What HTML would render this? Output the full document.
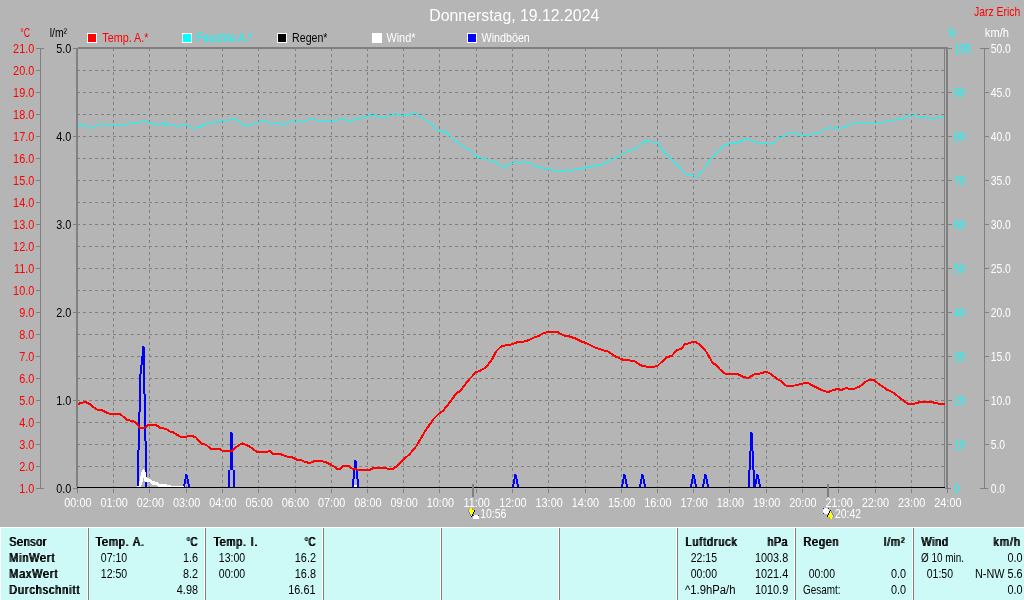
<!DOCTYPE html>
<html lang="de"><head><meta charset="utf-8"><title>Donnerstag, 19.12.2024</title>
<style>
html,body{margin:0;padding:0;background:#b5b5b5;overflow:hidden}
svg{display:block;will-change:transform}
text{font-family:"Liberation Sans",sans-serif;white-space:pre}
</style></head><body>
<svg width="1024" height="600" viewBox="0 0 1024 600" shape-rendering="crispEdges">
<defs><filter id="sb" x="-20%" y="-20%" width="140%" height="140%"><feOffset in="SourceGraphic" dx="1.163" dy="0" result="o"/><feMerge><feMergeNode in="o"/><feMergeNode in="SourceGraphic"/></feMerge></filter></defs>
<rect x="0" y="0" width="1024" height="600" fill="#b5b5b5"/>
<g stroke="#808080" stroke-width="1" stroke-dasharray="3 3" fill="none">
<line x1="77" y1="70.5" x2="945" y2="70.5"/>
<line x1="77" y1="92.5" x2="945" y2="92.5"/>
<line x1="77" y1="114.5" x2="945" y2="114.5"/>
<line x1="77" y1="136.5" x2="945" y2="136.5"/>
<line x1="77" y1="158.5" x2="945" y2="158.5"/>
<line x1="77" y1="180.5" x2="945" y2="180.5"/>
<line x1="77" y1="202.5" x2="945" y2="202.5"/>
<line x1="77" y1="224.5" x2="945" y2="224.5"/>
<line x1="77" y1="246.5" x2="945" y2="246.5"/>
<line x1="77" y1="268.5" x2="945" y2="268.5"/>
<line x1="77" y1="290.5" x2="945" y2="290.5"/>
<line x1="77" y1="312.5" x2="945" y2="312.5"/>
<line x1="77" y1="334.5" x2="945" y2="334.5"/>
<line x1="77" y1="356.5" x2="945" y2="356.5"/>
<line x1="77" y1="378.5" x2="945" y2="378.5"/>
<line x1="77" y1="400.5" x2="945" y2="400.5"/>
<line x1="77" y1="422.5" x2="945" y2="422.5"/>
<line x1="77" y1="444.5" x2="945" y2="444.5"/>
<line x1="77" y1="466.5" x2="945" y2="466.5"/>
<line x1="113.5" y1="48" x2="113.5" y2="487"/>
<line x1="149.5" y1="48" x2="149.5" y2="487"/>
<line x1="186.5" y1="48" x2="186.5" y2="487"/>
<line x1="222.5" y1="48" x2="222.5" y2="487"/>
<line x1="258.5" y1="48" x2="258.5" y2="487"/>
<line x1="295.5" y1="48" x2="295.5" y2="487"/>
<line x1="331.5" y1="48" x2="331.5" y2="487"/>
<line x1="367.5" y1="48" x2="367.5" y2="487"/>
<line x1="403.5" y1="48" x2="403.5" y2="487"/>
<line x1="439.5" y1="48" x2="439.5" y2="487"/>
<line x1="476.5" y1="48" x2="476.5" y2="487"/>
<line x1="512.5" y1="48" x2="512.5" y2="487"/>
<line x1="548.5" y1="48" x2="548.5" y2="487"/>
<line x1="585.5" y1="48" x2="585.5" y2="487"/>
<line x1="621.5" y1="48" x2="621.5" y2="487"/>
<line x1="657.5" y1="48" x2="657.5" y2="487"/>
<line x1="693.5" y1="48" x2="693.5" y2="487"/>
<line x1="729.5" y1="48" x2="729.5" y2="487"/>
<line x1="766.5" y1="48" x2="766.5" y2="487"/>
<line x1="802.5" y1="48" x2="802.5" y2="487"/>
<line x1="838.5" y1="48" x2="838.5" y2="487"/>
<line x1="875.5" y1="48" x2="875.5" y2="487"/>
<line x1="911.5" y1="48" x2="911.5" y2="487"/>
</g>
<rect x="113" y="489" width="1" height="4" fill="#808080"/>
<rect x="149" y="489" width="1" height="4" fill="#808080"/>
<rect x="186" y="489" width="1" height="4" fill="#808080"/>
<rect x="222" y="489" width="1" height="4" fill="#808080"/>
<rect x="258" y="489" width="1" height="4" fill="#808080"/>
<rect x="295" y="489" width="1" height="4" fill="#808080"/>
<rect x="331" y="489" width="1" height="4" fill="#808080"/>
<rect x="367" y="489" width="1" height="4" fill="#808080"/>
<rect x="403" y="489" width="1" height="4" fill="#808080"/>
<rect x="439" y="489" width="1" height="4" fill="#808080"/>
<rect x="476" y="489" width="1" height="4" fill="#808080"/>
<rect x="512" y="489" width="1" height="4" fill="#808080"/>
<rect x="548" y="489" width="1" height="4" fill="#808080"/>
<rect x="585" y="489" width="1" height="4" fill="#808080"/>
<rect x="621" y="489" width="1" height="4" fill="#808080"/>
<rect x="657" y="489" width="1" height="4" fill="#808080"/>
<rect x="693" y="489" width="1" height="4" fill="#808080"/>
<rect x="729" y="489" width="1" height="4" fill="#808080"/>
<rect x="766" y="489" width="1" height="4" fill="#808080"/>
<rect x="802" y="489" width="1" height="4" fill="#808080"/>
<rect x="838" y="489" width="1" height="4" fill="#808080"/>
<rect x="875" y="489" width="1" height="4" fill="#808080"/>
<rect x="911" y="489" width="1" height="4" fill="#808080"/>
<rect x="944" y="49" width="1" height="438" fill="#808080"/>
<g shape-rendering="crispEdges"><rect x="142" y="346" width="2" height="10" fill="#0000ff"/><rect x="144" y="347" width="1" height="9" fill="#0000ff"/><rect x="141" y="356" width="4" height="9" fill="#0000ff"/><rect x="140" y="365" width="2" height="9" fill="#0000ff"/><rect x="143" y="365" width="2" height="29" fill="#0000ff"/><rect x="139" y="374" width="2" height="38" fill="#0000ff"/><rect x="144" y="394" width="2" height="47" fill="#0000ff"/><rect x="138" y="412" width="2" height="38" fill="#0000ff"/><rect x="145" y="441" width="2" height="46" fill="#0000ff"/><rect x="137" y="450" width="2" height="37" fill="#0000ff"/><rect x="230" y="432" width="2" height="38" fill="#0000ff"/><rect x="232" y="433" width="1" height="37" fill="#0000ff"/><rect x="228" y="470" width="2" height="17" fill="#0000ff"/><rect x="233" y="470" width="2" height="17" fill="#0000ff"/><rect x="354" y="460" width="2" height="10" fill="#0000ff"/><rect x="356" y="461" width="1" height="9" fill="#0000ff"/><rect x="353" y="470" width="2" height="9" fill="#0000ff"/><rect x="356" y="470" width="2" height="9" fill="#0000ff"/><rect x="352" y="479" width="2" height="8" fill="#0000ff"/><rect x="357" y="479" width="2" height="8" fill="#0000ff"/><rect x="750" y="432" width="2" height="19" fill="#0000ff"/><rect x="752" y="433" width="1" height="18" fill="#0000ff"/><rect x="749" y="451" width="2" height="19" fill="#0000ff"/><rect x="752" y="451" width="2" height="19" fill="#0000ff"/><rect x="748" y="470" width="2" height="17" fill="#0000ff"/><rect x="753" y="470" width="2" height="17" fill="#0000ff"/><rect x="185" y="474" width="2" height="5" fill="#0000ff"/><rect x="187" y="475" width="1" height="4" fill="#0000ff"/><rect x="184" y="479" width="2" height="5" fill="#0000ff"/><rect x="187" y="479" width="2" height="5" fill="#0000ff"/><rect x="183" y="484" width="2" height="3" fill="#0000ff"/><rect x="188" y="484" width="2" height="3" fill="#0000ff"/><rect x="514" y="474" width="2" height="5" fill="#0000ff"/><rect x="516" y="475" width="1" height="4" fill="#0000ff"/><rect x="513" y="479" width="2" height="5" fill="#0000ff"/><rect x="516" y="479" width="2" height="5" fill="#0000ff"/><rect x="512" y="484" width="2" height="3" fill="#0000ff"/><rect x="517" y="484" width="2" height="3" fill="#0000ff"/><rect x="623" y="474" width="2" height="5" fill="#0000ff"/><rect x="625" y="475" width="1" height="4" fill="#0000ff"/><rect x="622" y="479" width="2" height="5" fill="#0000ff"/><rect x="625" y="479" width="2" height="5" fill="#0000ff"/><rect x="621" y="484" width="2" height="3" fill="#0000ff"/><rect x="626" y="484" width="2" height="3" fill="#0000ff"/><rect x="641" y="474" width="2" height="5" fill="#0000ff"/><rect x="643" y="475" width="1" height="4" fill="#0000ff"/><rect x="640" y="479" width="2" height="5" fill="#0000ff"/><rect x="643" y="479" width="2" height="5" fill="#0000ff"/><rect x="639" y="484" width="2" height="3" fill="#0000ff"/><rect x="644" y="484" width="2" height="3" fill="#0000ff"/><rect x="692" y="474" width="2" height="5" fill="#0000ff"/><rect x="694" y="475" width="1" height="4" fill="#0000ff"/><rect x="691" y="479" width="2" height="5" fill="#0000ff"/><rect x="694" y="479" width="2" height="5" fill="#0000ff"/><rect x="690" y="484" width="2" height="3" fill="#0000ff"/><rect x="695" y="484" width="2" height="3" fill="#0000ff"/><rect x="704" y="474" width="2" height="5" fill="#0000ff"/><rect x="706" y="475" width="1" height="4" fill="#0000ff"/><rect x="703" y="479" width="2" height="5" fill="#0000ff"/><rect x="706" y="479" width="2" height="5" fill="#0000ff"/><rect x="702" y="484" width="2" height="3" fill="#0000ff"/><rect x="707" y="484" width="2" height="3" fill="#0000ff"/><rect x="756" y="474" width="2" height="5" fill="#0000ff"/><rect x="758" y="475" width="1" height="4" fill="#0000ff"/><rect x="755" y="479" width="2" height="5" fill="#0000ff"/><rect x="758" y="479" width="2" height="5" fill="#0000ff"/><rect x="754" y="484" width="2" height="3" fill="#0000ff"/><rect x="759" y="484" width="2" height="3" fill="#0000ff"/></g>
<polygon shape-rendering="crispEdges" fill="#ffffff" points="137,487 139.1,482.75 140.3,477.3 141,472.3 142.4,470.25 143.5,469 144.5,470.25 145.75,472.3 145.75,476.5 147,477.75 150.75,479 152.8,481.1 157.8,481.9 159.5,483.6 164,484 169.5,484.8 172,485.7 184,486.2 184,487 158.25,487 157,485.25 152,484.8 150,482.3 147,482.3 145,482 144.5,480.7 143.5,478 143,478.2 142.4,482.75 141,487"/>
<rect x="145" y="482" width="2" height="5" fill="#0000ff"/>
<rect x="137" y="450" width="2" height="36" fill="#0000ff"/>
<rect x="354" y="485" width="3" height="2" fill="#ffffff"/>
<polyline points="77.40,127.70 80.20,123.40 83.30,126.60 86.00,125.00 89.50,128.50 95.40,126.20 101.30,123.40 107.10,125.40 111.00,124.40 116.90,124.40 120.80,125.40 124.70,125.00 130.50,122.70 138.40,122.70 141.30,121.10 146.20,121.10 150.10,123.40 154.00,124.60 155.90,123.40 159.80,125.40 162.80,122.50 165.70,125.40 168.20,123.40 171.60,125.40 174.50,125.40 177.40,126.60 183.30,124.40 187.20,125.40 192.70,128.50 198.90,127.30 206.70,123.40 210.60,123.40 214.50,121.50 218.40,122.30 223.30,120.30 229.20,120.30 232.10,119.30 236.00,119.50 239.90,121.90 243.80,125.40 248.70,126.20 254.60,123.40 260.40,121.50 264.30,120.30 267.80,121.90 270.70,124.40 273.70,123.40 279.50,123.40 282.50,125.40 287.30,122.70 292.20,121.10 295.50,122.70 300.00,120.30 306.90,120.30 310.80,119.10 314.70,119.50 319.60,121.50 322.50,121.50 325.40,120.30 329.30,121.50 333.20,121.10 337.10,120.30 341.00,118.40 345.00,119.90 349.50,121.50 355.70,118.60 357.70,119.50 361.60,117.60 366.40,116.80 371.30,115.00 375.20,115.60 379.10,117.60 383.00,117.60 387.00,116.40 390.90,115.60 394.80,113.70 398.70,114.50 403.60,116.00 407.50,114.10 410.40,114.50 415.30,112.30 419.20,116.40 425.00,119.10 428.90,122.50 433.40,125.40 436.40,130.30 440.70,130.30 444.00,132.40 446.10,131.30 449.10,135.50 451.00,136.30 456.80,141.40 464.60,147.30 468.60,149.20 474.40,155.50 479.30,157.80 486.10,158.60 489.00,160.50 494.00,160.90 498.80,165.00 503.70,167.40 510.50,164.10 516.00,161.50 518.40,162.50 522.30,162.50 524.20,161.50 527.10,162.50 530.10,162.50 535.00,166.40 538.90,166.40 542.80,168.40 547.70,168.80 553.50,170.30 561.30,170.30 563.30,171.50 566.80,169.30 569.10,170.30 573.00,170.30 578.90,168.90 584.80,168.40 588.70,166.40 591.60,166.40 594.50,165.20 596.90,166.40 600.40,164.50 605.30,163.70 608.20,161.30 616.00,157.60 618.40,157.40 621.90,153.90 633.60,148.80 636.50,148.40 640.40,144.50 648.80,140.40 652.70,142.00 657.60,142.20 663.40,152.30 669.30,156.30 675.20,163.70 679.10,166.00 683.90,173.20 689.80,175.20 693.70,175.80 696.60,177.30 699.60,173.20 702.50,171.50 708.40,162.50 711.30,157.40 714.20,155.70 718.10,150.80 720.10,149.80 723.60,145.30 726.90,144.90 729.80,143.40 733.80,143.40 736.70,142.00 739.60,142.00 744.50,139.50 748.00,138.50 751.30,141.40 754.30,141.40 757.20,144.10 761.10,142.00 763.00,143.00 767.00,143.40 769.30,144.50 774.80,142.00 778.70,138.30 784.50,136.10 787.50,133.60 796.30,133.60 799.20,134.60 803.10,134.60 806.00,135.50 808.90,135.50 814.80,132.40 820.70,132.40 823.60,129.70 826.50,129.30 829.90,127.40 832.80,128.40 835.70,127.40 838.60,128.40 845.50,127.20 852.30,123.30 881.60,123.30 885.50,121.30 888.50,121.30 891.40,120.20 894.30,120.20 896.30,119.20 902.10,119.20 908.00,115.70 910.90,116.60 914.20,115.30 918.70,117.20 926.50,117.20 929.50,118.20 936.30,118.20 940.20,116.30 944.00,116.30" fill="none" stroke="#00ffff" stroke-width="1" shape-rendering="crispEdges"/>
<polyline points="77.75,404.00 85.25,401.75 90.25,404.50 96.50,409.50 101.50,410.00 108.50,413.50 120.25,414.00 126.50,419.50 134.00,421.50 137.00,424.00 139.75,427.60 144.75,427.60 148.50,424.90 156.00,424.90 160.40,428.10 166.00,428.75 169.10,431.25 173.50,432.50 178.50,435.60 181.00,436.90 186.00,437.25 188.50,435.60 192.25,435.90 196.00,437.50 201.50,443.50 206.50,445.00 210.25,448.50 219.40,449.00 222.50,450.75 231.90,450.75 238.75,445.00 242.50,443.50 248.75,446.00 256.90,451.90 267.50,451.90 269.75,450.60 273.00,453.75 280.25,454.00 286.50,456.50 291.50,457.00 296.50,459.50 301.50,460.25 305.00,462.00 310.00,463.00 315.50,460.75 325.00,461.75 331.25,465.00 333.75,466.25 336.90,469.00 340.00,469.00 343.10,466.00 348.75,466.00 352.50,469.00 358.75,469.75 370.00,469.75 373.75,467.75 385.00,467.75 388.75,469.00 392.50,469.00 396.25,466.50 402.50,460.50 410.00,453.75 416.25,446.25 425.00,431.25 433.75,418.75 438.75,413.75 443.00,411.00 452.50,398.75 456.25,393.25 460.00,391.25 467.50,381.25 476.25,372.00 480.00,370.90 486.25,367.00 492.50,358.75 496.25,351.25 501.25,346.40 507.50,345.00 512.50,344.20 517.50,342.00 525.00,341.40 530.00,339.60 533.75,337.50 538.75,336.00 543.75,333.00 550.00,331.75 557.50,332.00 563.75,335.50 568.75,336.25 576.25,338.75 581.25,341.50 586.25,343.00 595.00,347.50 602.50,350.00 608.75,351.75 615.00,356.25 622.50,359.50 630.00,360.50 635.00,361.50 641.25,365.50 647.50,366.75 655.00,366.50 658.00,365.50 666.25,357.50 672.00,355.75 676.25,350.50 681.25,348.75 685.00,344.25 691.25,342.50 695.50,342.00 699.50,344.25 706.25,351.75 712.50,362.50 717.50,366.25 720.00,369.50 725.00,373.50 731.25,374.50 736.25,373.50 742.50,376.50 748.00,378.00 755.00,374.00 760.00,373.50 766.25,371.75 770.00,373.50 778.75,380.00 781.25,381.25 786.25,385.75 795.00,385.50 803.75,383.25 808.75,383.50 815.00,386.75 821.25,390.00 828.00,392.00 833.75,390.00 837.50,389.00 841.25,390.00 846.25,388.00 850.00,389.00 855.00,388.50 860.00,386.25 866.25,381.25 870.00,379.50 873.75,380.00 878.75,384.00 887.50,390.00 892.50,392.00 898.75,397.00 907.50,403.75 913.75,403.75 922.50,401.50 930.00,401.50 935.00,403.00 940.00,403.75 945.00,403.75" fill="none" stroke="#ff0000" stroke-width="2" shape-rendering="crispEdges" stroke-linejoin="round"/>
<rect x="76" y="48" width="2" height="439" fill="#808080"/>
<rect x="77" y="488" width="1" height="5" fill="#808080"/>
<rect x="78" y="47" width="870" height="2" fill="#808080"/>
<rect x="946" y="47" width="2" height="442" fill="#808080"/>
<rect x="947" y="488" width="1" height="5" fill="#808080"/>
<rect x="77" y="487" width="868" height="1" fill="#000000"/>
<rect x="40" y="48" width="1" height="441" fill="#808080"/>
<rect x="36" y="48" width="8" height="1" fill="#808080"/>
<rect x="36" y="70" width="4" height="1" fill="#808080"/>
<rect x="36" y="92" width="4" height="1" fill="#808080"/>
<rect x="36" y="114" width="4" height="1" fill="#808080"/>
<rect x="36" y="136" width="4" height="1" fill="#808080"/>
<rect x="36" y="158" width="4" height="1" fill="#808080"/>
<rect x="36" y="180" width="4" height="1" fill="#808080"/>
<rect x="36" y="202" width="4" height="1" fill="#808080"/>
<rect x="36" y="224" width="4" height="1" fill="#808080"/>
<rect x="36" y="246" width="4" height="1" fill="#808080"/>
<rect x="36" y="268" width="4" height="1" fill="#808080"/>
<rect x="36" y="290" width="4" height="1" fill="#808080"/>
<rect x="36" y="312" width="4" height="1" fill="#808080"/>
<rect x="36" y="334" width="4" height="1" fill="#808080"/>
<rect x="36" y="356" width="4" height="1" fill="#808080"/>
<rect x="36" y="378" width="4" height="1" fill="#808080"/>
<rect x="36" y="400" width="4" height="1" fill="#808080"/>
<rect x="36" y="422" width="4" height="1" fill="#808080"/>
<rect x="36" y="444" width="4" height="1" fill="#808080"/>
<rect x="36" y="466" width="4" height="1" fill="#808080"/>
<rect x="36" y="488" width="8" height="1" fill="#808080"/>
<rect x="73" y="48" width="4" height="1" fill="#808080"/>
<rect x="73" y="136" width="4" height="1" fill="#808080"/>
<rect x="73" y="224" width="4" height="1" fill="#808080"/>
<rect x="73" y="312" width="4" height="1" fill="#808080"/>
<rect x="73" y="400" width="4" height="1" fill="#808080"/>
<rect x="73" y="488" width="4" height="1" fill="#808080"/>
<rect x="948" y="48" width="4" height="1" fill="#808080"/>
<rect x="948" y="92" width="4" height="1" fill="#808080"/>
<rect x="948" y="136" width="4" height="1" fill="#808080"/>
<rect x="948" y="180" width="4" height="1" fill="#808080"/>
<rect x="948" y="224" width="4" height="1" fill="#808080"/>
<rect x="948" y="268" width="4" height="1" fill="#808080"/>
<rect x="948" y="312" width="4" height="1" fill="#808080"/>
<rect x="948" y="356" width="4" height="1" fill="#808080"/>
<rect x="948" y="400" width="4" height="1" fill="#808080"/>
<rect x="948" y="444" width="4" height="1" fill="#808080"/>
<rect x="945" y="488" width="6" height="1" fill="#808080"/>
<rect x="984" y="48" width="1" height="441" fill="#808080"/>
<rect x="980" y="48" width="9" height="1" fill="#808080"/>
<rect x="985" y="92" width="4" height="1" fill="#808080"/>
<rect x="985" y="136" width="4" height="1" fill="#808080"/>
<rect x="985" y="180" width="4" height="1" fill="#808080"/>
<rect x="985" y="224" width="4" height="1" fill="#808080"/>
<rect x="985" y="268" width="4" height="1" fill="#808080"/>
<rect x="985" y="312" width="4" height="1" fill="#808080"/>
<rect x="985" y="356" width="4" height="1" fill="#808080"/>
<rect x="985" y="400" width="4" height="1" fill="#808080"/>
<rect x="985" y="444" width="4" height="1" fill="#808080"/>
<rect x="980" y="488" width="8" height="1" fill="#808080"/>
<text transform="translate(13.12,53) scale(0.8700,1)" font-size="12.5" fill="#ff0000">21.0</text>
<text transform="translate(13.12,75) scale(0.8700,1)" font-size="12.5" fill="#ff0000">20.0</text>
<text transform="translate(13.12,97) scale(0.8700,1)" font-size="12.5" fill="#ff0000">19.0</text>
<text transform="translate(13.12,119) scale(0.8700,1)" font-size="12.5" fill="#ff0000">18.0</text>
<text transform="translate(13.12,141) scale(0.8700,1)" font-size="12.5" fill="#ff0000">17.0</text>
<text transform="translate(13.12,163) scale(0.8700,1)" font-size="12.5" fill="#ff0000">16.0</text>
<text transform="translate(13.12,185) scale(0.8700,1)" font-size="12.5" fill="#ff0000">15.0</text>
<text transform="translate(13.12,207) scale(0.8700,1)" font-size="12.5" fill="#ff0000">14.0</text>
<text transform="translate(13.12,229) scale(0.8700,1)" font-size="12.5" fill="#ff0000">13.0</text>
<text transform="translate(13.12,251) scale(0.8700,1)" font-size="12.5" fill="#ff0000">12.0</text>
<text transform="translate(13.94,273) scale(0.8700,1)" font-size="12.5" fill="#ff0000">11.0</text>
<text transform="translate(13.12,295) scale(0.8700,1)" font-size="12.5" fill="#ff0000">10.0</text>
<text transform="translate(19.18,317) scale(0.8700,1)" font-size="12.5" fill="#ff0000">9.0</text>
<text transform="translate(19.18,339) scale(0.8700,1)" font-size="12.5" fill="#ff0000">8.0</text>
<text transform="translate(19.18,361) scale(0.8700,1)" font-size="12.5" fill="#ff0000">7.0</text>
<text transform="translate(19.18,383) scale(0.8700,1)" font-size="12.5" fill="#ff0000">6.0</text>
<text transform="translate(19.18,405) scale(0.8700,1)" font-size="12.5" fill="#ff0000">5.0</text>
<text transform="translate(19.18,427) scale(0.8700,1)" font-size="12.5" fill="#ff0000">4.0</text>
<text transform="translate(19.18,449) scale(0.8700,1)" font-size="12.5" fill="#ff0000">3.0</text>
<text transform="translate(19.18,471) scale(0.8700,1)" font-size="12.5" fill="#ff0000">2.0</text>
<text transform="translate(19.18,493) scale(0.8700,1)" font-size="12.5" fill="#ff0000">1.0</text>
<text transform="translate(56.18,53) scale(0.8700,1)" font-size="12.5" fill="#000000">5.0</text>
<text transform="translate(56.18,141) scale(0.8700,1)" font-size="12.5" fill="#000000">4.0</text>
<text transform="translate(56.18,229) scale(0.8700,1)" font-size="12.5" fill="#000000">3.0</text>
<text transform="translate(56.18,317) scale(0.8700,1)" font-size="12.5" fill="#000000">2.0</text>
<text transform="translate(56.18,405) scale(0.8700,1)" font-size="12.5" fill="#000000">1.0</text>
<text transform="translate(56.18,493) scale(0.8700,1)" font-size="12.5" fill="#000000">0.0</text>
<text transform="translate(953.90,53) scale(0.8204,1)" font-size="12.5" fill="#00ffff">100</text>
<text transform="translate(953.90,97) scale(0.7982,1)" font-size="12.5" fill="#00ffff">90</text>
<text transform="translate(953.90,141) scale(0.7982,1)" font-size="12.5" fill="#00ffff">80</text>
<text transform="translate(953.90,185) scale(0.7982,1)" font-size="12.5" fill="#00ffff">70</text>
<text transform="translate(953.90,229) scale(0.7982,1)" font-size="12.5" fill="#00ffff">60</text>
<text transform="translate(953.90,273) scale(0.7982,1)" font-size="12.5" fill="#00ffff">50</text>
<text transform="translate(953.90,317) scale(0.7982,1)" font-size="12.5" fill="#00ffff">40</text>
<text transform="translate(953.90,361) scale(0.7982,1)" font-size="12.5" fill="#00ffff">30</text>
<text transform="translate(953.90,405) scale(0.7982,1)" font-size="12.5" fill="#00ffff">20</text>
<text transform="translate(953.90,449) scale(0.7982,1)" font-size="12.5" fill="#00ffff">10</text>
<text transform="translate(953.90,493) scale(0.7495,1)" font-size="12.5" fill="#00ffff">0</text>
<text transform="translate(990.70,53) scale(0.8298,1)" font-size="12.5" fill="#ffffff">50.0</text>
<text transform="translate(990.70,97) scale(0.8298,1)" font-size="12.5" fill="#ffffff">45.0</text>
<text transform="translate(990.70,141) scale(0.8298,1)" font-size="12.5" fill="#ffffff">40.0</text>
<text transform="translate(990.70,185) scale(0.8298,1)" font-size="12.5" fill="#ffffff">35.0</text>
<text transform="translate(990.70,229) scale(0.8298,1)" font-size="12.5" fill="#ffffff">30.0</text>
<text transform="translate(990.70,273) scale(0.8298,1)" font-size="12.5" fill="#ffffff">25.0</text>
<text transform="translate(990.70,317) scale(0.8298,1)" font-size="12.5" fill="#ffffff">20.0</text>
<text transform="translate(990.70,361) scale(0.8298,1)" font-size="12.5" fill="#ffffff">15.0</text>
<text transform="translate(990.70,405) scale(0.8298,1)" font-size="12.5" fill="#ffffff">10.0</text>
<text transform="translate(990.70,449) scale(0.8230,1)" font-size="12.5" fill="#ffffff">5.0</text>
<text transform="translate(990.70,493) scale(0.8230,1)" font-size="12.5" fill="#ffffff">0.0</text>
<text transform="translate(64.29,507) scale(0.8700,1)" font-size="12.5" fill="#ffffff">00:00</text>
<text transform="translate(100.54,507) scale(0.8700,1)" font-size="12.5" fill="#ffffff">01:00</text>
<text transform="translate(136.79,507) scale(0.8700,1)" font-size="12.5" fill="#ffffff">02:00</text>
<text transform="translate(173.04,507) scale(0.8700,1)" font-size="12.5" fill="#ffffff">03:00</text>
<text transform="translate(209.29,507) scale(0.8700,1)" font-size="12.5" fill="#ffffff">04:00</text>
<text transform="translate(245.54,507) scale(0.8700,1)" font-size="12.5" fill="#ffffff">05:00</text>
<text transform="translate(281.79,507) scale(0.8700,1)" font-size="12.5" fill="#ffffff">06:00</text>
<text transform="translate(318.04,507) scale(0.8700,1)" font-size="12.5" fill="#ffffff">07:00</text>
<text transform="translate(354.29,507) scale(0.8700,1)" font-size="12.5" fill="#ffffff">08:00</text>
<text transform="translate(390.54,507) scale(0.8700,1)" font-size="12.5" fill="#ffffff">09:00</text>
<text transform="translate(426.79,507) scale(0.8700,1)" font-size="12.5" fill="#ffffff">10:00</text>
<text transform="translate(463.45,507) scale(0.8700,1)" font-size="12.5" fill="#ffffff">11:00</text>
<text transform="translate(499.29,507) scale(0.8700,1)" font-size="12.5" fill="#ffffff">12:00</text>
<text transform="translate(535.54,507) scale(0.8700,1)" font-size="12.5" fill="#ffffff">13:00</text>
<text transform="translate(571.79,507) scale(0.8700,1)" font-size="12.5" fill="#ffffff">14:00</text>
<text transform="translate(608.04,507) scale(0.8700,1)" font-size="12.5" fill="#ffffff">15:00</text>
<text transform="translate(644.29,507) scale(0.8700,1)" font-size="12.5" fill="#ffffff">16:00</text>
<text transform="translate(680.54,507) scale(0.8700,1)" font-size="12.5" fill="#ffffff">17:00</text>
<text transform="translate(716.79,507) scale(0.8700,1)" font-size="12.5" fill="#ffffff">18:00</text>
<text transform="translate(753.04,507) scale(0.8700,1)" font-size="12.5" fill="#ffffff">19:00</text>
<text transform="translate(789.29,507) scale(0.8700,1)" font-size="12.5" fill="#ffffff">20:00</text>
<text transform="translate(825.54,507) scale(0.8700,1)" font-size="12.5" fill="#ffffff">21:00</text>
<text transform="translate(861.79,507) scale(0.8700,1)" font-size="12.5" fill="#ffffff">22:00</text>
<text transform="translate(898.04,507) scale(0.8700,1)" font-size="12.5" fill="#ffffff">23:00</text>
<text transform="translate(934.29,507) scale(0.8700,1)" font-size="12.5" fill="#ffffff">24:00</text>
<text transform="translate(20.20,37) scale(0.6984,1)" font-size="12.5" fill="#ff0000">°C</text>
<text transform="translate(49.70,37) scale(0.8312,1)" font-size="12.5" fill="#000000">l/m²</text>
<text transform="translate(948.00,37) scale(0.6652,1)" font-size="12.5" fill="#00ffff">%</text>
<text transform="translate(984.80,37) scale(0.8932,1)" font-size="12.5" fill="#ffffff">km/h</text>
<text transform="translate(974.00,16) scale(0.8315,1)" font-size="12.5" fill="#ff0000">Jarz Erich</text>
<text transform="translate(429.30,21) scale(0.9547,1)" font-size="16.6" fill="#ffffff">Donnerstag, 19.12.2024</text>
<rect x="87" y="33" width="10" height="10" fill="#ffffff"/>
<rect x="88" y="34" width="8" height="8" fill="#ff0000"/>
<text transform="translate(102.30,42) scale(0.8636,1)" font-size="12.5" fill="#ff0000">Temp. A.*</text>
<rect x="182" y="33" width="10" height="10" fill="#ffffff"/>
<rect x="183" y="34" width="8" height="8" fill="#00ffff"/>
<text transform="translate(196.40,42) scale(0.8681,1)" font-size="12.5" fill="#00ffff">Feuchte A.*</text>
<rect x="277" y="33" width="10" height="10" fill="#ffffff"/>
<rect x="278" y="34" width="8" height="8" fill="#000000"/>
<text transform="translate(292.10,42) scale(0.8492,1)" font-size="12.5" fill="#000000">Regen*</text>
<rect x="372" y="33" width="10" height="10" fill="#ffffff"/>
<rect x="373" y="34" width="8" height="8" fill="#ffffff"/>
<text transform="translate(386.40,42) scale(0.8727,1)" font-size="12.5" fill="#ffffff">Wind*</text>
<rect x="467" y="33" width="10" height="10" fill="#ffffff"/>
<rect x="468" y="34" width="8" height="8" fill="#0000ff"/>
<text transform="translate(481.50,42) scale(0.8600,1)" font-size="12.5" fill="#ffffff">Windböen</text>
<rect x="472" y="484" width="2" height="13" fill="#808080"/>
<rect x="827" y="484" width="2" height="13" fill="#808080"/>
<text transform="translate(480.20,518) scale(0.8376,1)" font-size="12.5" fill="#ffffff">10:56</text>
<text transform="translate(835.00,518) scale(0.8312,1)" font-size="12.5" fill="#ffffff">20:42</text>
<g shape-rendering="crispEdges">
<g fill="#ffff00"><rect x="470" y="508" width="3" height="2"/><rect x="469" y="510" width="5" height="2"/><rect x="470" y="512" width="3" height="2"/><rect x="471" y="514" width="1" height="2"/></g>
<rect x="472" y="508" width="1" height="2" fill="#b0b000"/>
<g fill="#000000"><rect x="474" y="510" width="1" height="2"/><rect x="473" y="512" width="1" height="2"/><rect x="472" y="514" width="1" height="2"/><rect x="471" y="516" width="1" height="1"/></g>
<g fill="#7884dc"><rect x="468" y="510" width="1" height="2"/><rect x="469" y="512" width="1" height="2"/><rect x="470" y="514" width="1" height="2"/></g>
<rect x="474" y="515" width="4" height="1" fill="#ffffff"/><rect x="473" y="516" width="6" height="3" fill="#ffffff"/>
<rect x="473" y="515" width="1" height="1" fill="#2020a0"/><rect x="478" y="515" width="1" height="1" fill="#2020a0"/>
<rect x="823" y="508" width="6" height="6" fill="#ffffff"/><g fill="#dcdcf8"><rect x="824" y="508" width="1" height="1"/><rect x="827" y="508" width="1" height="1"/><rect x="823" y="509" width="1" height="1"/><rect x="828" y="509" width="1" height="1"/><rect x="823" y="512" width="1" height="1"/><rect x="824" y="513" width="1" height="1"/></g>
<g fill="#2020a0"><rect x="823" y="508" width="1" height="1"/><rect x="828" y="508" width="1" height="1"/><rect x="823" y="513" width="1" height="1"/></g>
<g fill="#ffff00"><rect x="830" y="511" width="1" height="2"/><rect x="829" y="513" width="3" height="2"/><rect x="828" y="515" width="5" height="2"/><rect x="829" y="517" width="3" height="2"/></g>
<rect x="829" y="517" width="1" height="2" fill="#b0b000"/>
<g fill="#000000"><rect x="830" y="510" width="1" height="1"/><rect x="829" y="511" width="1" height="2"/><rect x="828" y="513" width="1" height="2"/><rect x="827" y="515" width="1" height="2"/></g>
<g fill="#7884dc"><rect x="831" y="511" width="1" height="2"/><rect x="832" y="513" width="1" height="2"/><rect x="833" y="515" width="1" height="2"/></g>
</g>
<rect x="0" y="527" width="1024" height="1" fill="#ffffff"/>
<rect x="0" y="527" width="1" height="73" fill="#ffffff"/>
<rect x="1" y="528" width="1023" height="72" fill="#cdfaf6"/>
<rect x="87" y="528" width="1" height="72" fill="#ffffff"/>
<rect x="88" y="528" width="1" height="72" fill="#808080"/>
<rect x="204" y="528" width="1" height="72" fill="#ffffff"/>
<rect x="205" y="528" width="1" height="72" fill="#808080"/>
<rect x="322" y="528" width="1" height="72" fill="#ffffff"/>
<rect x="323" y="528" width="1" height="72" fill="#808080"/>
<rect x="440" y="528" width="1" height="72" fill="#ffffff"/>
<rect x="441" y="528" width="1" height="72" fill="#808080"/>
<rect x="558" y="528" width="1" height="72" fill="#ffffff"/>
<rect x="559" y="528" width="1" height="72" fill="#808080"/>
<rect x="676" y="528" width="1" height="72" fill="#ffffff"/>
<rect x="677" y="528" width="1" height="72" fill="#808080"/>
<rect x="794" y="528" width="1" height="72" fill="#ffffff"/>
<rect x="795" y="528" width="1" height="72" fill="#808080"/>
<rect x="912" y="528" width="1" height="72" fill="#ffffff"/>
<rect x="913" y="528" width="1" height="72" fill="#808080"/>
<text transform="translate(8.80,546) scale(0.8600,1)" font-size="12.5" fill="#000000" letter-spacing="0.709" filter="url(#sb)">Sensor</text>
<text transform="translate(8.80,562) scale(0.8600,1)" font-size="12.5" fill="#000000" letter-spacing="1.041" filter="url(#sb)">MinWert</text>
<text transform="translate(8.80,578) scale(0.8600,1)" font-size="12.5" fill="#000000" letter-spacing="1.044" filter="url(#sb)">MaxWert</text>
<text transform="translate(8.80,594) scale(0.8600,1)" font-size="12.5" fill="#000000" letter-spacing="1.105" filter="url(#sb)">Durchschnitt</text>
<text transform="translate(95.30,546) scale(0.8600,1)" font-size="12.5" fill="#000000" letter-spacing="1.060" filter="url(#sb)">Temp. A.</text>
<text transform="translate(186.00,546) scale(0.7840,1)" font-size="12.5" fill="#000000" filter="url(#sb)">°C</text>
<text transform="translate(100.80,562) scale(0.8440,1)" font-size="12.5" fill="#000000">07:10</text>
<text transform="translate(182.88,562) scale(0.8700,1)" font-size="12.5" fill="#000000">1.6</text>
<text transform="translate(100.80,578) scale(0.8440,1)" font-size="12.5" fill="#000000">12:50</text>
<text transform="translate(182.88,578) scale(0.8700,1)" font-size="12.5" fill="#000000">8.2</text>
<text transform="translate(176.82,594) scale(0.8700,1)" font-size="12.5" fill="#000000">4.98</text>
<text transform="translate(213.20,546) scale(0.8600,1)" font-size="12.5" fill="#000000" letter-spacing="0.923" filter="url(#sb)">Temp. I.</text>
<text transform="translate(304.00,546) scale(0.7840,1)" font-size="12.5" fill="#000000" filter="url(#sb)">°C</text>
<text transform="translate(218.80,562) scale(0.8440,1)" font-size="12.5" fill="#000000">13:00</text>
<text transform="translate(294.82,562) scale(0.8700,1)" font-size="12.5" fill="#000000">16.2</text>
<text transform="translate(218.80,578) scale(0.8440,1)" font-size="12.5" fill="#000000">00:00</text>
<text transform="translate(294.82,578) scale(0.8700,1)" font-size="12.5" fill="#000000">16.8</text>
<text transform="translate(288.29,594) scale(0.8700,1)" font-size="12.5" fill="#000000">16.61</text>
<text transform="translate(685.00,546) scale(0.8600,1)" font-size="12.5" fill="#000000" letter-spacing="1.056" filter="url(#sb)">Luftdruck</text>
<text transform="translate(767.00,546) scale(0.8600,1)" font-size="12.5" fill="#000000" letter-spacing="0.503" filter="url(#sb)">hPa</text>
<text transform="translate(690.80,562) scale(0.8376,1)" font-size="12.5" fill="#000000">22:15</text>
<text transform="translate(754.95,562) scale(0.8700,1)" font-size="12.5" fill="#000000">1003.8</text>
<text transform="translate(690.80,578) scale(0.8376,1)" font-size="12.5" fill="#000000">00:00</text>
<text transform="translate(754.95,578) scale(0.8700,1)" font-size="12.5" fill="#000000">1021.4</text>
<text transform="translate(685.00,594) scale(0.9033,1)" font-size="12.5" fill="#000000">^1.9hPa/h</text>
<text transform="translate(754.95,594) scale(0.8700,1)" font-size="12.5" fill="#000000">1010.9</text>
<text transform="translate(803.00,546) scale(0.8600,1)" font-size="12.5" fill="#000000" letter-spacing="0.963" filter="url(#sb)">Regen</text>
<text transform="translate(883.50,546) scale(0.8600,1)" font-size="12.5" fill="#000000" letter-spacing="1.008" filter="url(#sb)">l/m²</text>
<text transform="translate(808.80,578) scale(0.8376,1)" font-size="12.5" fill="#000000">00:00</text>
<text transform="translate(890.88,578) scale(0.8700,1)" font-size="12.5" fill="#000000">0.0</text>
<text transform="translate(803.00,594) scale(0.7937,1)" font-size="12.5" fill="#000000">Gesamt:</text>
<text transform="translate(890.88,594) scale(0.8700,1)" font-size="12.5" fill="#000000">0.0</text>
<text transform="translate(921.00,546) scale(0.8600,1)" font-size="12.5" fill="#000000" letter-spacing="0.782" filter="url(#sb)">Wind</text>
<text transform="translate(993.00,546) scale(0.8600,1)" font-size="12.5" fill="#000000" letter-spacing="1.240" filter="url(#sb)">km/h</text>
<text transform="translate(921.00,562) scale(0.7935,1)" font-size="12.5" fill="#000000">Ø 10 min.</text>
<text transform="translate(1007.38,562) scale(0.8700,1)" font-size="12.5" fill="#000000">0.0</text>
<text transform="translate(926.80,578) scale(0.8376,1)" font-size="12.5" fill="#000000">01:50</text>
<text transform="translate(975.00,578) scale(0.8656,1)" font-size="12.5" fill="#000000">N-NW 5.6</text>
<text transform="translate(1007.38,594) scale(0.8700,1)" font-size="12.5" fill="#000000">0.0</text>
</svg>
</body></html>
